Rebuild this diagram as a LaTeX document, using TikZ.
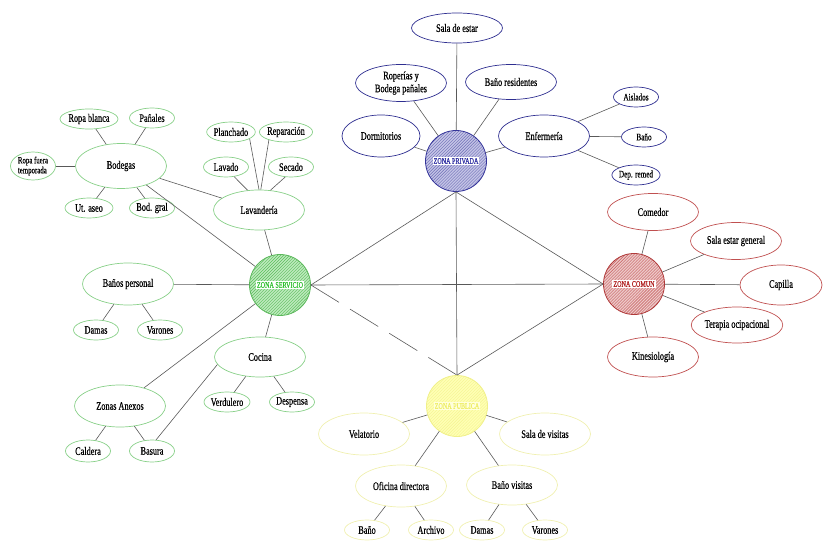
\documentclass[tikz,border=0pt]{standalone}
\usepackage{fontspec}
\setmainfont{Liberation Serif}[FakeStretch=0.72, FakeBold=0.5]
\usepackage{tikz}
\usetikzlibrary{shapes.geometric,patterns}

\definecolor{privline}{HTML}{35359A}
\definecolor{privfill}{HTML}{C4C4E6}
\definecolor{privhatch}{HTML}{6A6AB4}
\definecolor{privtext}{HTML}{2A2AA0}
\definecolor{privroom}{HTML}{2E2E90}
\definecolor{comunline}{HTML}{B03A3A}
\definecolor{comunfill}{HTML}{EDC8C8}
\definecolor{comunhatch}{HTML}{C45A5A}
\definecolor{comuntext}{HTML}{B02020}
\definecolor{comunroom}{HTML}{C05050}
\definecolor{servline}{HTML}{5CB85C}
\definecolor{servfill}{HTML}{BCEABC}
\definecolor{servhatch}{HTML}{5CBC5C}
\definecolor{servtext}{HTML}{30C030}
\definecolor{servroom}{HTML}{88D088}
\definecolor{publine}{HTML}{F0F08A}
\definecolor{pubfill}{HTML}{FFFFB4}
\definecolor{pubhatch}{HTML}{F4F490}
\definecolor{pubtext}{HTML}{EEEE66}
\definecolor{pubbox}{HTML}{FFFFDC}
\definecolor{pubroom}{HTML}{F0F0B0}

\newcommand{\zonetext}[3]{{\setlength\fboxsep{1pt}\colorbox{#1}{\textcolor{#2}{#3}}}}

\begin{document}
\begin{tikzpicture}[
            x=1bp, y=-1bp,
            every node/.style={color=black},
            link/.style={line width=0.6bp, color=black!65},
            dashed link/.style={link, dash pattern=on 33bp off 13bp},
            zone/.style n args={3}{circle, minimum size=61bp, inner sep=0pt,
            line width=0.8bp, draw=#1, preaction={fill=#2},
            pattern=north east lines, pattern color=#3,
            font=\fontsize{8.5}{9}\selectfont},
            room/.style={ellipse, draw=#1, line width=0.7bp, inner sep=0pt,
            minimum width=91bp, minimum height=40bp, align=center,
            font=\fontsize{11.5}{13}\selectfont},
            small room/.style={room=#1, minimum width=45bp, minimum height=20bp}
            ]
            \useasboundingbox (0,0) rectangle (823,542);

            % zones
            \node(privada)[zone={privline}{privfill}{privhatch}] at (456,161)
                {\zonetext{white}{privtext}{ZONA PRIVADA}};
            \node(comun)[zone={comunline}{comunfill}{comunhatch}] at (634,284)
                {\zonetext{white}{comuntext}{ZONA COMUN}};
            \node(servicio)[zone={servline}{servfill}{servhatch}] at (280,285)
                {\zonetext{white}{servtext}{ZONA SERVICIO}};
            \node(publica)[zone={publine}{pubfill}{pubhatch}] at (457,406)
                {\zonetext{pubbox}{pubtext}{ZONA PUBLICA}};

            \draw[link] (servicio.east) -- (privada.south);
            \draw[link] (servicio.east) -- (comun.west);
            \draw[link] (privada.south) -- (publica.north);
            \draw[link] (privada.south) -- (comun.west);
            \draw[link] (publica.north) -- (comun.west);
            \draw[dashed link] (servicio.east) -- (publica.north);

            % zona privada
            \node(sala)[room=privroom, minimum height=30bp] at (457,28) {Sala de estar};
            \node(roperias)[room=privroom, minimum height=37bp] at (401,83) {Roperías y\\Bodega pañales};
            \node(banores)[room=privroom, minimum height=35bp] at (511,82) {Baño residentes};
            \node(dormitorios)[room=privroom, minimum width=78bp, minimum height=42bp] at (381,136) {Dormitorios};
            \node(enfermeria)[room=privroom, minimum height=42bp] at (544,136) {Enfermería};
            \node(aislados)[small room=privroom, font=\fontsize{10}{11}\selectfont] at (636,97) {Aislados};
            \node(banopriv)[small room=privroom, font=\fontsize{10}{11}\selectfont] at (644,137) {Baño};
            \node(depremed)[small room=privroom, font=\fontsize{10}{11}\selectfont] at (636,175) {Dep. remed};

            \draw[link] (privada) -- (sala);
            \draw[link] (privada) -- (roperias);
            \draw[link] (privada) -- (banores);
            \draw[link] (privada) -- (dormitorios);
            \draw[link] (privada) -- (enfermeria);
            \draw[link] (enfermeria) -- (aislados);
            \draw[link] (enfermeria) -- (banopriv);
            \draw[link] (enfermeria) -- (depremed);

            % zona comun
            \node(comedor)[room=comunroom, minimum height=37bp] at (653,212) {Comedor};
            \node(salagen)[room=comunroom, minimum height=37bp] at (736,241) {Sala estar general};
            \node(capilla)[room=comunroom, minimum width=82bp] at (781,285) {Capilla};
            \node(terapia)[room=comunroom, minimum height=36bp] at (737,325) {Terapia ocipacional};
            \node(kine)[room=comunroom] at (653,357) {Kinesiología};

            \draw[link] (comun) -- (comedor);
            \draw[link] (comun) -- (salagen);
            \draw[link] (comun) -- (capilla);
            \draw[link] (comun) -- (terapia);
            \draw[link] (comun) -- (kine);

            % zona servicio
            \node(bodegas)[room=servroom, minimum height=45bp] at (121,166) {Bodegas};
            \node(ropablanca)[small room=servroom] at (89,119) {Ropa blanca};
            \node(panales)[small room=servroom] at (152,118) {Pañales};
            \node(ropafuera)[small room=servroom, minimum height=28bp, align=left,
                font=\fontsize{9.5}{10}\selectfont] at (33,166) {Ropa fuera\\temporada};
            \node(utaseo)[small room=servroom, minimum width=48bp] at (89,208) {Ut. aseo};
            \node(bodgral)[small room=servroom] at (152,208) {Bod. gral};
            \node(lavanderia)[room=servroom] at (259,210) {Lavandería};
            \node(planchado)[small room=servroom] at (231,132) {Planchado};
            \node(reparacion)[small room=servroom] at (286,132) {Reparación};
            \node(lavado)[small room=servroom] at (226,167) {Lavado};
            \node(secado)[small room=servroom] at (291,167) {Secado};
            \node(banospers)[room=servroom, minimum height=42bp] at (128,284) {Baños personal};
            \node(damas)[small room=servroom] at (96,330) {Damas};
            \node(varones)[small room=servroom] at (160,330) {Varones};
            \node(cocina)[room=servroom] at (260,357) {Cocina};
            \node(verdulero)[small room=servroom] at (227,402) {Verdulero};
            \node(despensa)[small room=servroom] at (292,402) {Despensa};
            \node(anexos)[room=servroom, minimum height=42bp] at (120,406) {Zonas Anexos};
            \node(caldera)[small room=servroom, minimum height=22bp] at (88,451) {Caldera};
            \node(basura)[small room=servroom, minimum height=22bp] at (152,451) {Basura};

            \draw[link] (bodegas) -- (ropablanca);
            \draw[link] (bodegas) -- (panales);
            \draw[link] (bodegas) -- (ropafuera);
            \draw[link] (bodegas) -- (utaseo);
            \draw[link] (bodegas) -- (bodgral);
            \draw[link] (bodegas) -- (lavanderia);
            \draw[link] (bodegas) -- (servicio);
            \draw[link] (planchado.-20) -- (lavanderia.north);
            \draw[link] (reparacion.-155) -- (lavanderia.85);
            \draw[link] (lavado.-50) -- (lavanderia.120);
            \draw[link] (secado.-120) -- (lavanderia.60);
            \draw[link] (lavanderia) -- (servicio);
            \draw[link] (banospers) -- (servicio);
            \draw[link] (banospers) -- (damas);
            \draw[link] (banospers) -- (varones);
            \draw[link] (cocina) -- (servicio);
            \draw[link] (cocina) -- (verdulero);
            \draw[link] (cocina) -- (despensa);
            \draw[link] (anexos) -- (servicio);
            \draw[link] (anexos) -- (caldera);
            \draw[link] (anexos) -- (basura);
            \draw[link] (basura.70) -- (cocina.190);

            % zona publica
            \node(velatorio)[room=pubroom, minimum height=42bp] at (364,434) {Velatorio};
            \node(salavis)[room=pubroom, minimum height=42bp] at (545,434) {Sala de visitas};
            \node(oficina)[room=pubroom, minimum height=42bp] at (401,486) {Oficina directora};
            \node(banovis)[room=pubroom] at (512,485) {Baño visitas};
            \node(bano)[small room=pubroom] at (367,530) {Baño};
            \node(archivo)[small room=pubroom] at (431,530) {Archivo};
            \node(damaspub)[small room=pubroom] at (482,530) {Damas};
            \node(varonespub)[small room=pubroom] at (545,530) {Varones};

            \draw[link] (publica) -- (velatorio);
            \draw[link] (publica) -- (salavis);
            \draw[link] (publica) -- (oficina);
            \draw[link] (publica) -- (banovis);
            \draw[link] (oficina) -- (bano);
            \draw[link] (oficina) -- (archivo);
            \draw[link] (banovis) -- (damaspub);
            \draw[link] (banovis) -- (varonespub);

        \end{tikzpicture}
\end{document}
